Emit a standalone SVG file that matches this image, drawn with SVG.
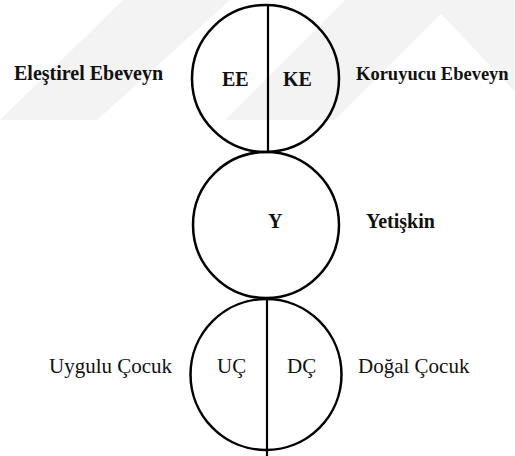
<svg xmlns="http://www.w3.org/2000/svg" width="515" height="456" viewBox="0 0 515 456">
  <style>
    .ring { fill: none; stroke: #000; stroke-width: 2.5; }
    .split { stroke: #000; stroke-width: 2.2; }
    .b { font-family: "Liberation Serif", "Times New Roman", serif; font-size: 20px; font-weight: bold; fill: #111; }
    .r { font-family: "Liberation Serif", "Times New Roman", serif; font-size: 21px; fill: #111; }
    .wm { fill: #f3f3f3; }
  </style>
  <rect width="515" height="456" fill="#fff"/>
  <g id="watermark">
    <polygon class="wm" points="0,120 97,120 230,0 123,0"/>
    <polygon class="wm" points="225,120 335,120 455,0 345,0"/>
    <polygon class="wm" points="428,0 515,0 515,92"/>
  </g>
  <g id="node-parent">
    <circle class="ring" cx="265.5" cy="78.5" r="73.5"/>
    <line class="split" x1="268" y1="5" x2="268" y2="152"/>
    <text class="b" x="222" y="86">EE</text>
    <text class="b" x="283" y="86">KE</text>
    <text class="b" x="14" y="80">Eleştirel Ebeveyn</text>
    <text class="b" x="356" y="80" style="font-size:18.5px">Koruyucu Ebeveyn</text>
  </g>
  <g id="node-adult">
    <circle class="ring" cx="266" cy="225" r="73"/>
    <text class="b" x="268" y="228">Y</text>
    <text class="b" x="366" y="228">Yetişkin</text>
  </g>
  <g id="node-child">
    <circle class="ring" cx="266" cy="374.5" r="75.5"/>
    <line class="split" x1="267" y1="298" x2="267" y2="456"/>
    <text class="r" x="217" y="373">UÇ</text>
    <text class="r" x="287" y="373">DÇ</text>
    <text class="r" x="49" y="373">Uygulu Çocuk</text>
    <text class="r" x="358" y="373">Doğal Çocuk</text>
  </g>
  <g id="connectors"></g>
</svg>
